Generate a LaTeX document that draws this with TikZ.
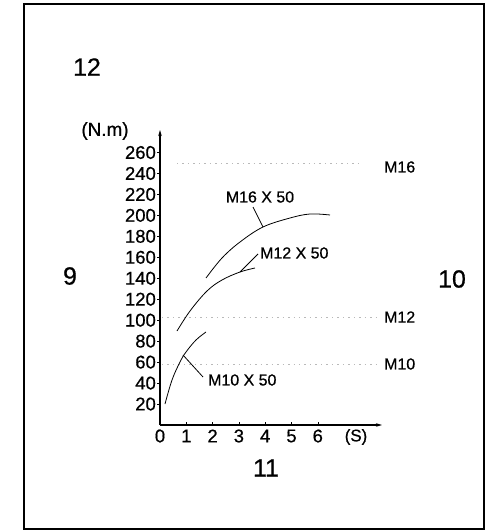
\documentclass[tikz,border=0pt]{standalone}
\usepackage{fontspec}
\setmainfont{Liberation Sans}[FakeBold=0.6]
\usetikzlibrary{arrows.meta}
\begin{document}
\begin{tikzpicture}[x=1bp,y=-1bp,
  tick/.style={inner sep=0pt,font=\fontsize{18.5}{18.5}\selectfont},
  lbl/.style={inner sep=0pt,font=\fontsize{16}{16}\selectfont},
  side/.style={inner sep=0pt,font=\fontsize{16}{16}\selectfont},
  big/.style={inner sep=0pt,font=\fontsize{25}{25}\selectfont},
  axis/.style={line width=1.1pt,-{Stealth[length=6pt,width=3.5pt]}},
  guide/.style={gray!55,line width=0.6pt,dash pattern=on 1.5pt off 4pt},
  curve/.style={line width=0.8pt},
  leader/.style={line width=0.8pt}]
\useasboundingbox (0,0) rectangle (486,531);
\draw[line width=1.2pt] (24,4) rectangle (484,529);
% axes
\coordinate (O) at (160,425);
\coordinate (ytop) at (160,130);
\coordinate (xend) at (382,425);
\draw[axis] (O) -- (ytop);
\draw[axis] (O) -- (xend);
% y ticks
\foreach \v in {20,40,...,260}{
  \pgfmathsetmacro{\yy}{425-1.048*\v}
  \draw[line width=0.6pt] (157,\yy) -- (160,\yy);
  \node[tick,anchor=east] (yt\v) at (156,\yy) {\v};
}
% x ticks
\foreach \s in {0,...,6}{
  \pgfmathsetmacro{\xx}{160+26.3*\s}
  \ifnum\s>0 \draw[line width=0.6pt] (\xx,422) -- (\xx,425);\fi
  \node[tick] (xt\s) at (\xx,436) {\s};
}
\node[tick,font=\fontsize{17}{17}\selectfont] (S) at (356,437) {(S)};
\node[tick,font=\fontsize{19}{19}\selectfont] (Nm) at (105,131) {(N.m)};
% guide lines
\node[side,anchor=west] (m16) at (384,167) {M16};
\node[side,anchor=west] (m12) at (384,317) {M12};
\node[side,anchor=west] (m10) at (384,364) {M10};
\draw[guide] (177,163) -- (362,163);
\draw[guide] (162,317) -- (377,317);
\draw[guide] (162,364) -- (377,364);
% curves
\draw[curve] plot[smooth,tension=0.6] coordinates {(165,404) (172,380) (180,362) (186,352) (196,340) (206,332)};
\draw[curve] plot[smooth,tension=0.6] coordinates {(177,331) (190,311) (207,291) (222,280) (240,272) (255,268)};
\draw[curve] plot[smooth,tension=0.6] coordinates {(206,278) (222,258) (240,242) (263,227) (290,218) (310,214) (330,215)};
\coordinate (c10) at (183,355);
\coordinate (c12) at (240,272);
\coordinate (c16) at (263,227);
\node[lbl,anchor=west] (l10) at (208,380) {M10 X 50};
\node[lbl,anchor=west] (l12) at (260,253) {M12 X 50};
\node[lbl] (l16) at (260,197) {M16 X 50};
\draw[leader] (c10) -- (203,377);
\draw[leader] (c12) -- (258,254);
\draw[leader] (c16) -- (253,207);
% side numbers
\node[big] (n12) at (87,67) {12};
\node[big] (n9) at (70,276) {9};
\node[big] (n10) at (452,279) {10};
\node[big] (n11) at (266,468) {11};
\end{tikzpicture}
\end{document}
